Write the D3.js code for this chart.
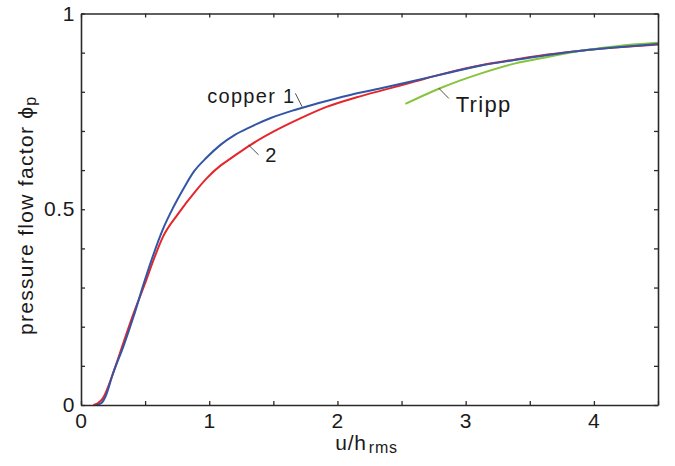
<!DOCTYPE html>
<html>
<head>
<meta charset="utf-8">
<script src="https://cdn.jsdelivr.net/npm/d3@7"></script>
<style>
    body { margin: 0; background: #fff; }
    svg text { font-family: "Liberation Sans", Arial, Helvetica, sans-serif; fill: #1a1a1a; }
</style>
</head>
<body>
<div id="chart"></div>
<script>
// Curve data (u/h_rms vs pressure flow factor)
const copper1X = [0.12, 0.16, 0.19, 0.25, 0.33, 0.41, 0.49, 0.56, 0.64, 0.72, 0.80, 0.88, 0.98, 1.09, 1.20, 1.32, 1.48, 1.66, 1.84, 2.10, 2.34, 2.60, 2.86, 3.12, 3.38, 3.64, 3.90, 4.16, 4.50];
const copper1Y = [0, 0.005, 0.021, 0.081, 0.149, 0.226, 0.311, 0.380, 0.450, 0.505, 0.553, 0.596, 0.632, 0.665, 0.690, 0.710, 0.733, 0.753, 0.770, 0.792, 0.809, 0.828, 0.848, 0.867, 0.881, 0.894, 0.905, 0.913, 0.922];

const copper2X = [0.096, 0.13, 0.17, 0.25, 0.33, 0.41, 0.50, 0.565, 0.64, 0.75, 0.90, 0.98, 1.09, 1.16, 1.32, 1.50, 1.71, 1.92, 2.15, 2.34, 2.49, 2.60, 2.86, 3.12, 3.38, 3.64, 3.90, 4.16, 4.50];
const copper2Y = [0, 0.004, 0.017, 0.081, 0.158, 0.234, 0.311, 0.37, 0.43, 0.485, 0.549, 0.579, 0.612, 0.628, 0.664, 0.698, 0.732, 0.762, 0.786, 0.803, 0.816, 0.826, 0.849, 0.868, 0.882, 0.895, 0.905, 0.913, 0.921];

const trippX = [2.53, 2.80, 3.12, 3.38, 3.64, 3.90, 4.16, 4.50];
const trippY = [0.769, 0.809, 0.847, 0.872, 0.889, 0.905, 0.916, 0.925];

const xTicks = [0, 0.5, 1, 1.5, 2, 2.5, 3, 3.5, 4, 4.5];
const xTickLabels = [0, 1, 2, 3, 4];
const yTicks = d3.range(0, 1.0001, 0.1);
const yTickLabels = [0, 0.5, 1];

// Labels with leader lines, anchored in data units
const notes = [
    { text: "copper 1", tx: 0.984, ty: 0.771, size: 20, line: [1.672, 0.796, 1.724, 0.762] },
    { text: "2", tx: 1.4375, ty: 0.621, size: 20, line: [1.307, 0.664, 1.385, 0.639] },
    { text: "Tripp", tx: 2.922, ty: 0.749, size: 22, line: [2.791, 0.809, 2.869, 0.783] }
];

const width = 675, height = 466;
const margin = { top: 13.5, right: 17, bottom: 61, left: 81 };

const svg = d3.select("#chart")
    .append("svg")
    .attr("width", width)
    .attr("height", height);

const x = d3.scaleLinear().domain([0, 4.5]).range([margin.left, width - margin.right]);
const y = d3.scaleLinear().domain([0, 1]).range([height - margin.bottom, margin.top]);

const axisColor = "#2a2a2a";
const tickLen = 4;
const spacing = 1.3;

// Curves
const line = d3.line()
    .x(d => x(d[0]))
    .y(d => y(d[1]))
    .curve(d3.curveMonotoneX);

const series = [
    { xs: copper2X, ys: copper2Y, color: "#e5262b" },
    { xs: trippX, ys: trippY, color: "#86c43c" },
    { xs: copper1X, ys: copper1Y, color: "#3355a6" }
];

series.forEach(s => {
    svg.append("path")
        .datum(s.xs.map((v, i) => [v, s.ys[i]]))
        .attr("fill", "none")
        .attr("stroke", s.color)
        .attr("stroke-width", 2)
        .attr("stroke-linejoin", "round")
        .attr("d", line);
});

// Frame with inward ticks on all four sides
const bottomAxis = d3.axisBottom(x).tickValues(xTicks).tickSizeInner(-tickLen).tickSizeOuter(0).tickFormat("");
const topAxis = d3.axisTop(x).tickValues(xTicks).tickSizeInner(-tickLen).tickSizeOuter(0).tickFormat("");
const leftAxis = d3.axisLeft(y).tickValues(yTicks).tickSizeInner(-tickLen).tickSizeOuter(0).tickFormat("");
const rightAxis = d3.axisRight(y).tickValues(yTicks).tickSizeInner(-tickLen).tickSizeOuter(0).tickFormat("");

const axes = [
    { axis: bottomAxis, t: `translate(0,${y(0)})` },
    { axis: topAxis, t: `translate(0,${y(1)})` },
    { axis: leftAxis, t: `translate(${x(0)},0)` },
    { axis: rightAxis, t: `translate(${x(4.5)},0)` }
];

axes.forEach(a => {
    const g = svg.append("g").attr("transform", a.t).call(a.axis);
    g.select(".domain").attr("stroke", axisColor).attr("stroke-width", 1.6);
    g.selectAll(".tick line").attr("stroke", axisColor).attr("stroke-width", 1.3);
});

// Tick labels
svg.append("g")
    .selectAll("text")
    .data(xTickLabels)
    .join("text")
    .attr("x", d => x(d))
    .attr("y", y(0) + 23)
    .attr("text-anchor", "middle")
    .attr("font-size", 21)
    .text(d => d);

svg.append("g")
    .selectAll("text")
    .data(yTickLabels)
    .join("text")
    .attr("x", x(0) - 6)
    .attr("y", d => y(d) + 7)
    .attr("text-anchor", "end")
    .attr("font-size", 21)
    .attr("letter-spacing", 0.6)
    .text(d => d);

// Axis titles
const xTitle = svg.append("text")
    .attr("x", (x(0) + x(4.5)) / 2 - 3)
    .attr("y", 450)
    .attr("text-anchor", "middle")
    .attr("font-size", 21)
    .attr("letter-spacing", 0.8);
xTitle.append("tspan").text("u/h");
xTitle.append("tspan").attr("font-size", 16).attr("dy", 3).attr("dx", 2).text("rms");

const yTitle = svg.append("text")
    .attr("transform", `translate(33,${(y(0) + y(1)) / 2 + 6}) rotate(-90)`)
    .attr("text-anchor", "middle")
    .attr("font-size", 21)
    .attr("letter-spacing", spacing);
yTitle.append("tspan").text("pressure flow factor \u03d5");
yTitle.append("tspan").attr("font-size", 16).attr("dy", 3).text("p");

// Curve labels and leader lines
notes.forEach(n => {
    svg.append("line")
        .attr("x1", x(n.line[0]))
        .attr("y1", y(n.line[1]))
        .attr("x2", x(n.line[2]))
        .attr("y2", y(n.line[3]))
        .attr("stroke", "#222")
        .attr("stroke-width", 0.8);
    svg.append("text")
        .attr("x", x(n.tx))
        .attr("y", y(n.ty))
        .attr("font-size", n.size)
        .attr("letter-spacing", spacing)
        .text(n.text);
});
</script>
</body>
</html>
